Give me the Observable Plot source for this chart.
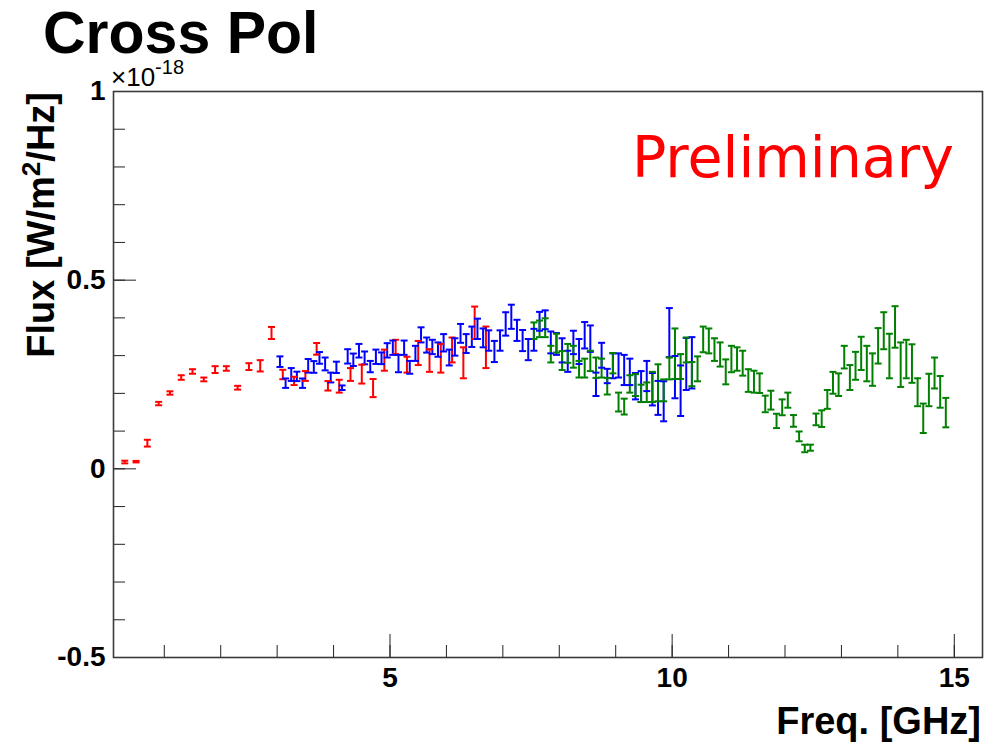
<!DOCTYPE html>
<html><head><meta charset="utf-8">
<script src="https://cdn.jsdelivr.net/npm/d3@7"></script>
<script src="https://cdn.jsdelivr.net/npm/@observablehq/plot@0.6"></script>
<style>
html,body{margin:0;padding:0;background:#fff;}
#chart{position:relative;width:984px;height:745px;overflow:hidden;}
</style></head><body><div id="chart"></div>
<script>
// ---- data ----
const redFreq = [0.3,0.5,0.7,0.9,1.1,1.3,1.5,1.7,1.9,2.1,2.3,2.5,2.7,2.9,3.1,3.3,3.5,3.7,3.9,4.1,4.3,4.5,4.7,4.9,5.1,5.3,5.5,5.7,5.9,6.1,6.3,6.5,6.7];
const redFlux = [0.018,0.019,0.068,0.173,0.201,0.242,0.258,0.237,0.263,0.266,0.215,0.271,0.273,0.360,0.250,0.233,0.246,0.318,0.220,0.219,0.250,0.251,0.214,0.288,0.323,0.276,0.307,0.287,0.293,0.315,0.281,0.387,0.322];
const redErr  = [0.0035,0.002,0.009,0.0045,0.0045,0.006,0.006,0.005,0.009,0.006,0.005,0.009,0.015,0.016,0.0125,0.011,0.013,0.0155,0.0125,0.017,0.017,0.025,0.024,0.028,0.019,0.021,0.032,0.030,0.038,0.033,0.041,0.043,0.055];

const blueFreq = [3.05,3.15,3.25,3.35,3.45,3.55,3.65,3.75,3.85,3.95,
  4.05,4.15,4.25,4.35,4.45,4.55,4.65,4.75,4.85,4.95,
  5.05,5.15,5.25,5.35,5.45,5.55,5.65,5.75,5.85,5.95,
  6.05,6.15,6.25,6.35,6.45,6.55,6.65,6.75,6.85,6.95,
  7.05,7.15,7.25,7.35,7.45,7.55,7.65,7.75,7.85,7.95,
  8.05,8.15,8.25,8.35,8.45,8.55,8.65,8.75,8.85,8.95,
  9.05,9.15,9.25,9.35,9.45,9.55,9.65,9.75,9.85,9.95,
  10.05,10.15,10.25,10.35];
const blueFlux = [0.284,0.227,0.250,0.245,0.227,0.273,0.270,0.294,0.278,0.242,
  0.269,0.215,0.298,0.289,0.313,0.294,0.271,0.297,0.293,0.314,
  0.321,0.279,0.321,0.269,0.306,0.355,0.328,0.323,0.316,0.334,
  0.295,0.323,0.359,0.332,0.350,0.371,0.347,0.340,0.311,0.340,
  0.384,0.403,0.367,0.340,0.316,0.342,0.391,0.395,0.335,0.331,
  0.314,0.285,0.335,0.311,0.354,0.345,0.224,0.301,0.246,0.273,
  0.274,0.262,0.257,0.219,0.218,0.246,0.211,0.188,0.179,0.361,
  0.243,0.207,0.278,0.281];
const blueErr = [0.014,0.0125,0.017,0.0125,0.0125,0.018,0.0155,0.0155,0.017,0.013,
  0.015,0.006,0.019,0.0165,0.018,0.017,0.015,0.019,0.0155,0.019,
  0.019,0.023,0.019,0.017,0.020,0.020,0.020,0.019,0.019,0.023,
  0.021,0.023,0.025,0.025,0.027,0.027,0.025,0.027,0.028,0.027,
  0.031,0.032,0.028,0.028,0.028,0.029,0.025,0.025,0.029,0.029,
  0.032,0.028,0.031,0.033,0.035,0.035,0.031,0.033,0.019,0.033,
  0.032,0.040,0.035,0.035,0.041,0.040,0.043,0.045,0.053,0.065,
  0.056,0.067,0.069,0.068];

const greenFreq = [7.55,7.65,7.75,7.85,7.95,
  8.05,8.15,8.25,8.35,8.45,8.55,8.65,8.75,8.85,8.95,
  9.05,9.15,9.25,9.35,9.45,9.55,9.65,9.75,9.85,9.95,
  10.05,10.15,10.25,10.35,10.45,10.55,10.65,10.75,10.85,10.95,
  11.05,11.15,11.25,11.35,11.45,11.55,11.65,11.75,11.85,11.95,
  12.05,12.15,12.25,12.35,12.45,12.55,12.65,12.75,12.85,12.95,
  13.05,13.15,13.25,13.35,13.45,13.55,13.65,13.75,13.85,13.95,
  14.05,14.15,14.25,14.35,14.45,14.55,14.65,14.75,14.85];
const greenFlux = [0.366,0.371,0.374,0.304,0.333,0.287,0.306,0.297,0.264,0.267,
  0.286,0.268,0.267,0.219,0.280,0.177,0.165,0.225,0.222,0.200,
  0.203,0.217,0.228,0.208,0.266,0.305,0.271,0.315,0.251,0.265,
  0.343,0.339,0.316,0.303,0.257,0.291,0.291,0.280,0.234,0.231,
  0.227,0.172,0.182,0.127,0.163,0.182,0.127,0.086,0.054,0.056,
  0.131,0.133,0.184,0.228,0.223,0.296,0.242,0.273,0.306,0.279,
  0.263,0.326,0.366,0.299,0.376,0.276,0.291,0.279,0.203,0.134,
  0.209,0.254,0.204,0.149];
const greenErr = [0.022,0.022,0.025,0.022,0.025,0.025,0.025,0.029,0.022,0.025,
  0.027,0.027,0.025,0.022,0.027,0.025,0.021,0.023,0.029,0.023,
  0.026,0.040,0.049,0.029,0.029,0.067,0.033,0.033,0.032,0.033,
  0.034,0.033,0.030,0.032,0.033,0.035,0.031,0.033,0.030,0.029,
  0.026,0.022,0.025,0.019,0.021,0.020,0.0155,0.013,0.010,0.008,
  0.0155,0.022,0.025,0.029,0.030,0.030,0.033,0.037,0.044,0.047,
  0.043,0.047,0.049,0.059,0.055,0.059,0.051,0.051,0.037,0.039,
  0.043,0.041,0.042,0.039];

const seriesNames = ["red","blue","green"];
const seriesColors = ["#ff0000","#0000ff","#2aa62a"];

const yMajorTicks = [-0.5,0,0.5,1];
const yMinorTicks = [-0.5,-0.4,-0.3,-0.2,-0.1,0,0.1,0.2,0.3,0.4,0.5,0.6,0.7,0.8,0.9,1];
const xMajorTicks = [5,10,15];
const xMinorTicks = [1,2,3,4,5,6,7,8,9,10,11,12,13,14,15];

// ---- table ----
function rows(freq, flux, err, series) {
  return freq.map((f, i) => ({freq: f, flux: flux[i], err: err[i], series}));
}
const data = [
  ...rows(redFreq, redFlux, redErr, "red"),
  ...rows(blueFreq, blueFlux, blueErr, "blue"),
  ...rows(greenFreq, greenFlux, greenErr, "green")
];

const capSymbol = {
  draw(context, size) {
    const r = Math.sqrt(size / Math.PI);
    context.moveTo(-r, 0);
    context.lineTo(r, 0);
  }
};

const FONT = "'Liberation Sans', Arial, Helvetica, sans-serif";

const chart = Plot.plot({
  width: 984,
  height: 745,
  marginLeft: 113,
  marginRight: 2,
  marginTop: 91,
  marginBottom: 88,
  x: {domain: [0.1, 15.5]},
  y: {domain: [-0.5, 1]},
  color: {domain: seriesNames, range: seriesColors},
  style: {background: "#ffffff", overflow: "visible", fontFamily: FONT},
  marks: [
    Plot.axisY(yMinorTicks, {tickSize: -12, tickFormat: () => "", label: null, stroke: "#222"}),
    Plot.axisY(yMajorTicks, {tickSize: -23, tickPadding: 31, tickFormat: d => String(d), label: null,
      fontSize: 28, fontWeight: "bold", fill: "#000", stroke: "#222"}),
    Plot.axisX(xMinorTicks, {tickSize: -12, tickFormat: () => "", label: null, stroke: "#222"}),
    Plot.axisX(xMajorTicks, {tickSize: -23, tickPadding: 33, tickFormat: d => String(d), label: null,
      fontSize: 28, fontWeight: "bold", fill: "#000", stroke: "#222"}),
    Plot.frame({stroke: "#3a3a3a", strokeWidth: 1.6}),
    Plot.ruleX(data, {x: "freq", y1: d => d.flux - d.err, y2: d => d.flux + d.err,
      stroke: "series", strokeWidth: 2}),
    Plot.dot(data, {x: "freq", y: d => d.flux - d.err, symbol: capSymbol, r: 3.5,
      fill: "none", stroke: "series", strokeWidth: 2}),
    Plot.dot(data, {x: "freq", y: d => d.flux + d.err, symbol: capSymbol, r: 3.5,
      fill: "none", stroke: "series", strokeWidth: 2})
  ]
});

document.getElementById("chart").appendChild(chart);

const svg = d3.select(chart);
// title
svg.append("text").attr("x", 43).attr("y", 53).attr("text-anchor", "start")
  .attr("font-family", FONT).attr("font-weight", "bold").attr("font-size", 59)
  .attr("fill", "#000").text("Cross Pol");
// exponent
const ex = svg.append("text").attr("x", 111).attr("y", 86).attr("text-anchor", "start")
  .attr("font-family", FONT).attr("font-size", 26).attr("fill", "#000");
ex.append("tspan").text("×10");
ex.append("tspan").attr("dy", -12).attr("font-size", 20).text("-18");
// axis titles
svg.append("text").attr("x", 981).attr("y", 734).attr("text-anchor", "end")
  .attr("font-family", FONT).attr("font-weight", "bold").attr("font-size", 38)
  .attr("fill", "#000").text("Freq. [GHz]");
const yt = svg.append("text").attr("transform", "translate(54,92) rotate(-90)")
  .attr("text-anchor", "end")
  .attr("font-family", FONT).attr("font-weight", "bold").attr("font-size", 38)
  .attr("fill", "#000");
yt.append("tspan").text("Flux [W/m");
yt.append("tspan").attr("dy", -14).attr("font-size", 26).text("2");
yt.append("tspan").attr("dy", 14).text("/Hz]");
// preliminary
svg.append("text").attr("x", 632).attr("y", 177).attr("text-anchor", "start")
  .attr("font-family", "'DejaVu Sans', Verdana, sans-serif").attr("font-size", 57)
  .attr("fill", "#ff0000").text("Preliminary");
</script>
</body></html>
